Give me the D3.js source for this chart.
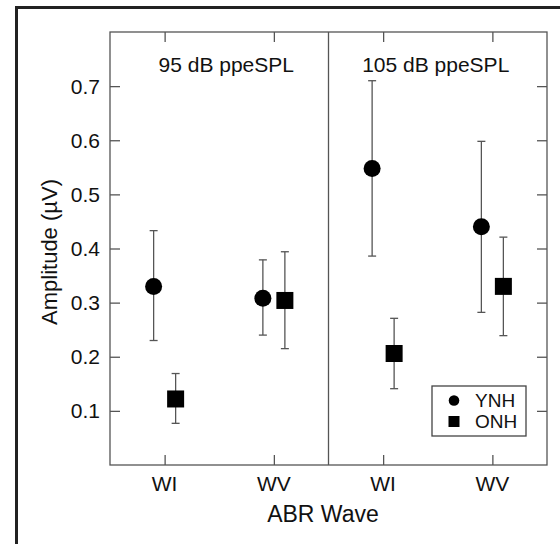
<!DOCTYPE html>
<html>
<head>
<meta charset="utf-8">
<script src="https://cdn.jsdelivr.net/npm/d3@7"></script>
<style>
  body { margin: 0; background: #fff; }
  text { font-family: "Liberation Sans", Arial, sans-serif; fill: #111; }
</style>
</head>
<body>
<script>
// chart data
var levels = ["95 dB ppeSPL", "105 dB ppeSPL"];
var waves = ["WI", "WV"];
var groups = ["YNH", "ONH"];
var yTicks = [0.1, 0.2, 0.3, 0.4, 0.5, 0.6, 0.7];

// mean, lower and upper error limits per level, per wave
var ynhMean  = [[0.330, 0.308], [0.548, 0.440]];
var ynhLow   = [[0.230, 0.240], [0.386, 0.282]];
var ynhHigh  = [[0.433, 0.379], [0.710, 0.598]];
var onhMean  = [[0.122, 0.304], [0.206, 0.330]];
var onhLow   = [[0.077, 0.215], [0.141, 0.239]];
var onhHigh  = [[0.169, 0.394], [0.271, 0.421]];

var w = 560, h = 544;
var mLeft = 110, mRight = 547, mTop = 32, mBottom = 465;
var lineCol = "#555";

var svg = d3.select("body").append("svg")
    .attr("width", w)
    .attr("height", h);

// outer frame (left and top edges only)
svg.append("path")
    .attr("d", "M16.5," + h + "V7.5H" + w)
    .attr("fill", "none")
    .attr("stroke", "#222")
    .attr("stroke-width", 3);

var yScale = d3.scaleLinear().domain([0, 0.8]).range([mBottom, mTop]);

// one band per level, then a point scale for waves inside it
var panel = d3.scaleBand().domain(levels).range([mLeft, mRight]);
var waveScale = d3.scalePoint().domain(waves).range([0, panel.bandwidth()]).padding(0.5);
var groupOffset = d3.scalePoint().domain(groups).range([-11, 11]);

// build flat list of points
var points = [];
levels.forEach(function(lv, i) {
    waves.forEach(function(wv, j) {
        points.push({ level: lv, wave: wv, group: "YNH", mean: ynhMean[i][j], lo: ynhLow[i][j], hi: ynhHigh[i][j] });
        points.push({ level: lv, wave: wv, group: "ONH", mean: onhMean[i][j], lo: onhLow[i][j], hi: onhHigh[i][j] });
    });
});

function xPos(d) {
    return panel(d.level) + waveScale(d.wave) + groupOffset(d.group);
}

// plot frame
svg.append("rect")
    .attr("x", mLeft).attr("y", mTop)
    .attr("width", mRight - mLeft).attr("height", mBottom - mTop)
    .attr("fill", "none")
    .attr("stroke", lineCol)
    .attr("stroke-width", 1.3);

// divider between panels
svg.append("line")
    .attr("x1", panel(levels[1])).attr("x2", panel(levels[1]))
    .attr("y1", mTop).attr("y2", mBottom)
    .attr("stroke", lineCol)
    .attr("stroke-width", 1.3);

// y axes, ticks pointing inward
var yAxisL = d3.axisRight(yScale).tickValues(yTicks).tickSize(10).tickFormat("");
var gL = svg.append("g").attr("transform", "translate(" + mLeft + ",0)").call(yAxisL);
var yAxisR = d3.axisLeft(yScale).tickValues(yTicks).tickSize(10).tickFormat("");
var gR = svg.append("g").attr("transform", "translate(" + mRight + ",0)").call(yAxisR);
[gL, gR].forEach(function(g) {
    g.select(".domain").remove();
    g.selectAll("line").attr("stroke", lineCol).attr("stroke-width", 1.3);
});

// y tick labels
svg.selectAll(".ylab")
    .data(yTicks)
    .enter()
    .append("text")
    .attr("class", "ylab")
    .attr("x", mLeft - 10)
    .attr("y", function(d) { return yScale(d) + 7.5; })
    .attr("text-anchor", "end")
    .style("font-size", "21px")
    .text(function(d) { return d3.format(".1f")(d); });

// x ticks for each panel (bottom and top, inward)
levels.forEach(function(lv, i) {
    var xs = d3.scalePoint().domain(waves).range([panel(lv), panel(lv) + panel.bandwidth()]).padding(0.5);
    var xb = svg.append("g").attr("transform", "translate(0," + mBottom + ")")
        .call(d3.axisTop(xs).tickSize(10).tickFormat(""));
    var xt = svg.append("g").attr("transform", "translate(0," + mTop + ")")
        .call(d3.axisBottom(xs).tickSize(10).tickFormat(""));
    [xb, xt].forEach(function(g) {
        g.select(".domain").remove();
        g.selectAll("line").attr("stroke", lineCol).attr("stroke-width", 1.3);
    });

    // wave labels
    svg.selectAll(null)
        .data(waves)
        .enter()
        .append("text")
        .attr("x", function(d) { return xs(d); })
        .attr("y", 491)
        .attr("text-anchor", "middle")
        .style("font-size", "21px")
        .text(function(d) { return d; });

    // panel title
    svg.append("text")
        .attr("x", panel(lv) + panel.bandwidth() / 2 + (i === 0 ? 7 : -2))
        .attr("y", 72)
        .attr("text-anchor", "middle")
        .style("font-size", "21px")
        .text(lv);
});

// axis titles
svg.append("text")
    .attr("x", 323)
    .attr("y", 522)
    .attr("text-anchor", "middle")
    .style("font-size", "23px")
    .text("ABR Wave");

svg.append("text")
    .attr("transform", "rotate(-90)")
    .attr("x", -252)
    .attr("y", 57)
    .attr("text-anchor", "middle")
    .style("font-size", "22px")
    .text("Amplitude (\u00b5V)");

// error bars
var eb = svg.selectAll(".err")
    .data(points)
    .enter()
    .append("g")
    .attr("class", "err")
    .attr("stroke", lineCol)
    .attr("stroke-width", 1.3);

eb.append("line")
    .attr("x1", xPos).attr("x2", xPos)
    .attr("y1", function(d) { return yScale(d.lo); })
    .attr("y2", function(d) { return yScale(d.hi); });
eb.append("line")
    .attr("x1", function(d) { return xPos(d) - 4; })
    .attr("x2", function(d) { return xPos(d) + 4; })
    .attr("y1", function(d) { return yScale(d.hi); })
    .attr("y2", function(d) { return yScale(d.hi); });
eb.append("line")
    .attr("x1", function(d) { return xPos(d) - 4; })
    .attr("x2", function(d) { return xPos(d) + 4; })
    .attr("y1", function(d) { return yScale(d.lo); })
    .attr("y2", function(d) { return yScale(d.lo); });

// markers
svg.selectAll(".ynh")
    .data(points.filter(function(d) { return d.group === "YNH"; }))
    .enter()
    .append("circle")
    .attr("cx", xPos)
    .attr("cy", function(d) { return yScale(d.mean); })
    .attr("r", 8.5)
    .attr("fill", "#000");

svg.selectAll(".onh")
    .data(points.filter(function(d) { return d.group === "ONH"; }))
    .enter()
    .append("rect")
    .attr("x", function(d) { return xPos(d) - 8.5; })
    .attr("y", function(d) { return yScale(d.mean) - 8.5; })
    .attr("width", 17)
    .attr("height", 17)
    .attr("fill", "#000");

// legend
var lg = svg.append("g").attr("transform", "translate(432,386)");
lg.append("rect")
    .attr("x", 0).attr("y", 0)
    .attr("width", 94).attr("height", 50)
    .attr("fill", "#fff")
    .attr("stroke", "#444")
    .attr("stroke-width", 1.3);
lg.append("circle").attr("cx", 22).attr("cy", 14.5).attr("r", 5.3).attr("fill", "#000");
lg.append("rect").attr("x", 16.5).attr("y", 30).attr("width", 11).attr("height", 11).attr("fill", "#000");
lg.selectAll(".lt")
    .data(groups)
    .enter()
    .append("text")
    .attr("x", 43)
    .attr("y", function(d, i) { return 21 + i * 21; })
    .style("font-size", "19px")
    .text(function(d) { return d; });
</script>
</body>
</html>
